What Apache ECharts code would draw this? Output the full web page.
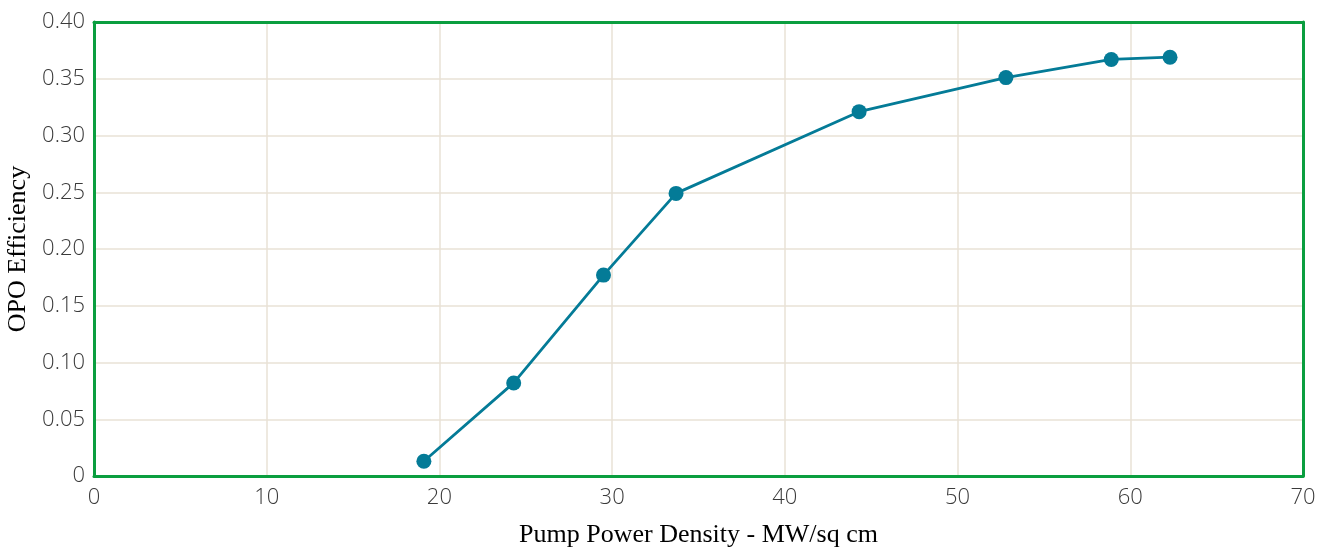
<!DOCTYPE html>
<html>
<head>
<meta charset="utf-8" />
<title>OPO Efficiency</title>
<script src="https://cdn.jsdelivr.net/npm/echarts@6/dist/echarts.min.js"></script>
<style>
	html, body { margin: 0; padding: 0; background: #fff; }
	#chart { width: 1328px; height: 552px; }
</style>
</head>
<body>
<div id="chart"></div>
<script>
	// pump power density (MW/sq cm) vs OPO efficiency
	const pumpDensity = [19.1, 24.3, 29.5, 33.7, 44.3, 52.8, 58.9, 62.3];
	const efficiency = [0.013, 0.082, 0.177, 0.249, 0.321, 0.351, 0.367, 0.369];

	const chart = echarts.init(document.getElementById("chart"));
	const tickFont = {
		fontFamily: "Open Sans",
		fontWeight: 300,
		fontSize: 22,
		color: "#3a3a3a"
	};
	const frameLine = { show: true, onZero: false, lineStyle: { color: "#0a9e3f", width: 3 } };
	const titleFont = { fontFamily: "Liberation Serif", fontSize: 26, color: "#000" };
	chart.setOption({
		animation: false,
		grid: { left: 94, right: 25, top: 22, bottom: 76, outerBoundsMode: "none" },
		xAxis: [{
			type: "value",
			min: 0, max: 70, interval: 10,
			name: "Pump Power Density - MW/sq cm",
			nameLocation: "middle",
			nameGap: 46,
			nameTextStyle: titleFont,
			axisLine: frameLine,
			axisTick: { show: false },
			axisLabel: Object.assign({ margin: 11 }, tickFont),
			splitLine: { lineStyle: { color: "#e8e2d6", width: 1.5 } }
		}, {
			type: "value",
			position: "top",
			min: 0, max: 70,
			axisLine: frameLine,
			axisTick: { show: false },
			axisLabel: { show: false },
			splitLine: { show: false }
		}],
		yAxis: [{
			type: "value",
			min: 0, max: 0.4, interval: 0.05,
			name: "OPO Efficiency",
			nameLocation: "middle",
			nameGap: 55,
			nameTextStyle: titleFont,
			axisLine: frameLine,
			axisTick: { show: false },
			axisLabel: Object.assign({
				margin: 9,
				formatter: function (v) { return v === 0 ? "0" : v.toFixed(2); }
			}, tickFont),
			splitLine: { lineStyle: { color: "#e8e2d6", width: 1.5 } }
		}, {
			type: "value",
			position: "right",
			min: 0, max: 0.4,
			axisLine: frameLine,
			axisTick: { show: false },
			axisLabel: { show: false },
			splitLine: { show: false }
		}],
		series: [{
			type: "line",
			data: pumpDensity.map(function (x, i) { return [x, efficiency[i]]; }),
			symbol: "circle",
			symbolSize: 15,
			lineStyle: { color: "#047b97", width: 2.8 },
			itemStyle: { color: "#047b97" }
		}]
	});
</script>
</body>
</html>
